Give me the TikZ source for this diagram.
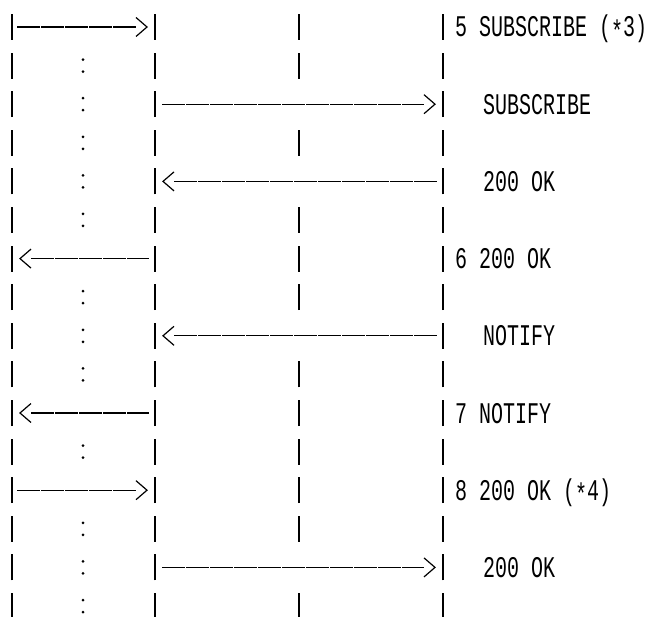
\documentclass[tikz,border=0pt]{standalone}
\usepackage{fontspec}
\newfontfamily\msgfont{Liberation Mono}
\newcommand\lowstar{\raisebox{-3pt}{*}}
\tikzset{
  lifeline/.style={line width=1.8pt},
  msgline/.style={line width=1.2pt, dash pattern=on 23pt off 1pt},
  msgtip/.style={line width=1.2pt, line join=miter},
  msglabel/.style={font=\msgfont\fontsize{20}{24}\selectfont, anchor=base west, inner sep=0pt, yscale=1.5}
}
\begin{document}
\begin{tikzpicture}[x=1pt, y=-1pt]
\useasboundingbox (0,0) rectangle (650,617);
% one point per row on each of the four lifelines
\foreach \i in {1,...,16}{
  \foreach \n/\x in {A/12,B/155,C/299,D/443}
    \coordinate (\n\i) at (\x,{27+38.6*(\i-1)});
}
% lifelines, broken at every row
\foreach \i in {1,...,16}{
  \draw[lifeline] ([yshift=-13]A\i) -- ([yshift=13]A\i);
  \draw[lifeline] ([yshift=-13]B\i) -- ([yshift=13]B\i);
  \draw[lifeline] ([yshift=-13]D\i) -- ([yshift=13]D\i);
}
\foreach \i in {1,2,4,6,7,8,10,11,12,13,14,16}
  \draw[lifeline] ([yshift=-13]C\i) -- ([yshift=13]C\i);
% dotted activity between the first two lifelines
\foreach \i in {2,3,4,5,6,8,9,10,12,14,15,16}{
  \fill ([shift={(71,-6)}]A\i) circle[radius=1.5];
  \fill ([shift={(71,6)}]A\i) circle[radius=1.5];
}
% 5 SUBSCRIBE
\draw[msgline] ([xshift=5]A1) -- ([xshift=-19]B1);
\draw[msgtip] ([shift={(-19,-9.5)}]B1) -- ([xshift=-8]B1) -- ([shift={(-19,9.5)}]B1);
\node[msglabel] (sub5) at ([xshift=12,yshift=-10]D1) {5 SUBSCRIBE (\lowstar3)};
% SUBSCRIBE
\draw[msgline] ([xshift=7]B3) -- ([xshift=-19]D3);
\draw[msgtip] ([shift={(-19,-9.5)}]D3) -- ([xshift=-8]D3) -- ([shift={(-19,9.5)}]D3);
\node[msglabel] (sub) at ([xshift=40,yshift=-10]D3) {SUBSCRIBE};
% 200 OK
\draw[msgline] ([xshift=19]B5) -- ([xshift=-6]D5);
\draw[msgtip] ([shift={(19,-9.5)}]B5) -- ([xshift=8]B5) -- ([shift={(19,9.5)}]B5);
\node[msglabel] (oksub) at ([xshift=40,yshift=-10]D5) {200 OK};
% 6 200 OK
\draw[msgline] ([xshift=19]A7) -- ([xshift=-6]B7);
\draw[msgtip] ([shift={(19,-9.5)}]A7) -- ([xshift=8]A7) -- ([shift={(19,9.5)}]A7);
\node[msglabel] (ok6) at ([xshift=12,yshift=-10]D7) {6 200 OK};
% NOTIFY
\draw[msgline] ([xshift=19]B9) -- ([xshift=-6]D9);
\draw[msgtip] ([shift={(19,-9.5)}]B9) -- ([xshift=8]B9) -- ([shift={(19,9.5)}]B9);
\node[msglabel] (ntf) at ([xshift=40,yshift=-10]D9) {NOTIFY};
% 7 NOTIFY
\draw[msgline] ([xshift=19]A11) -- ([xshift=-6]B11);
\draw[msgtip] ([shift={(19,-9.5)}]A11) -- ([xshift=8]A11) -- ([shift={(19,9.5)}]A11);
\node[msglabel] (ntf7) at ([xshift=12,yshift=-10]D11) {7 NOTIFY};
% 8 200 OK
\draw[msgline] ([xshift=5]A13) -- ([xshift=-19]B13);
\draw[msgtip] ([shift={(-19,-9.5)}]B13) -- ([xshift=-8]B13) -- ([shift={(-19,9.5)}]B13);
\node[msglabel] (ok8) at ([xshift=12,yshift=-10]D13) {8 200 OK (\lowstar4)};
% 200 OK
\draw[msgline] ([xshift=7]B15) -- ([xshift=-19]D15);
\draw[msgtip] ([shift={(-19,-9.5)}]D15) -- ([xshift=-8]D15) -- ([shift={(-19,9.5)}]D15);
\node[msglabel] (okntf) at ([xshift=40,yshift=-10]D15) {200 OK};
\end{tikzpicture}
\end{document}
